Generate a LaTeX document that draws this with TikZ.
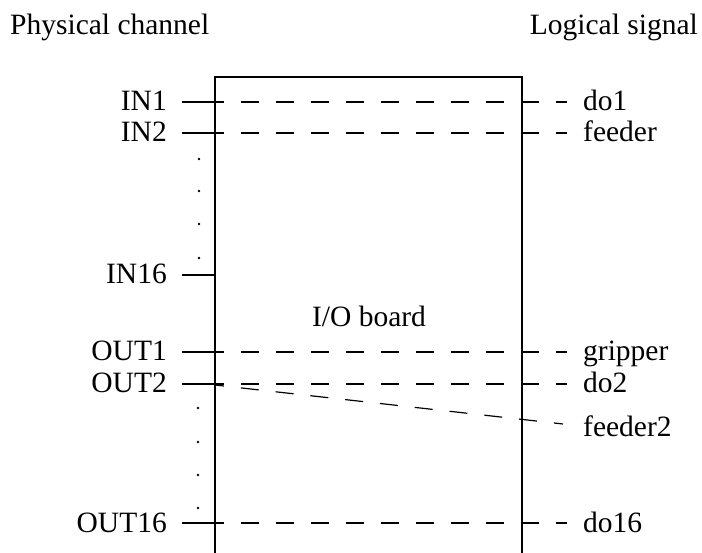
\documentclass[tikz,border=0pt]{standalone}
\usepackage{fontspec}
\setmainfont{Liberation Serif}
\begin{document}
\begin{tikzpicture}[x=1pt,y=-1pt,
  lbl/.style={font=\fontsize{29.5}{34}\selectfont, inner sep=0pt},
  wire/.style={line width=1.2pt},
  dsh/.style={line width=1.2pt, dash pattern=on 18pt off 17pt, dash phase=9pt},
  dotm/.style={circle, fill=black, inner sep=0pt, minimum size=2.6pt}]
\useasboundingbox (0,0) rectangle (702,553);
\clip (0,0) rectangle (702,553);
% titles
\node[lbl, anchor=base west] (tl) at (10,35) {Physical channel};
\node[lbl, anchor=base east] (tr) at (698,35) {Logical signal};
% board
\coordinate (btl) at (215,77);
\coordinate (bbr) at (522,600);
\draw[wire] (btl) rectangle (bbr);
\node[lbl, anchor=base] (board) at (369,327) {I/O board};
% rows: name / y / left label / right label
\foreach \n/\y/\l/\r in {a/102/IN1/do1, b/133/IN2/feeder, d/352/OUT1/gripper, e/384/OUT2/do2, f/523/OUT16/do16}{
  \node[lbl, anchor=base east] (L\n) at (167,\y+9) {\l};
  \coordinate (S\n) at (182,\y);
  \coordinate (B\n) at (215,\y);
  \coordinate (R\n) at (567,\y);
  \node[lbl, anchor=base west] (T\n) at (583,\y+9) {\r};
  \draw[wire] (S\n) -- (B\n);
  \draw[dsh] (B\n) -- (R\n);
}
% IN16
\node[lbl, anchor=base east] (Lc) at (167,284) {IN16};
\coordinate (Sc) at (182,275);
\coordinate (Bc) at (215,275);
\draw[wire] (Sc) -- (Bc);
% feeder2
\coordinate (Fs) at (215,385);
\coordinate (Fe) at (563,424);
\draw[dsh] (Fs) -- (Fe);
\node[lbl, anchor=base west] (Tg) at (583,437) {feeder2};
% dots
\foreach \y [count=\i] in {159,191,224,258}{ \node[dotm] (di\i) at (199,\y) {}; }
\foreach \y [count=\i] in {408,442,475,508}{ \node[dotm] (do\i) at (198,\y) {}; }
\end{tikzpicture}
\end{document}
